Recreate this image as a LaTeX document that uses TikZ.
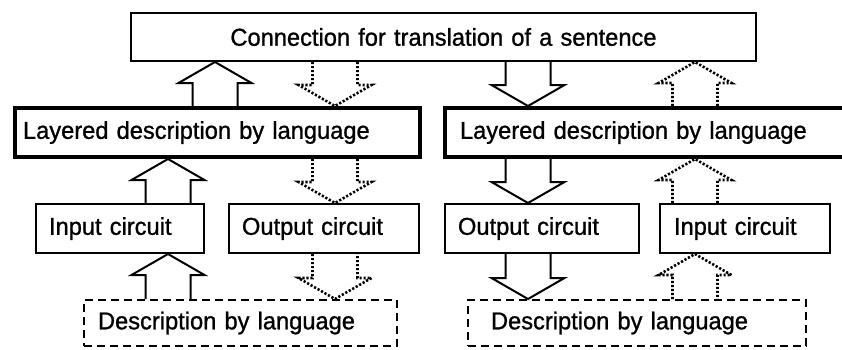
\documentclass[tikz,border=0pt]{standalone}
\usepackage{fontspec}
\setmainfont{Liberation Sans}[FakeBold=1, FakeStretch=0.97]
\usetikzlibrary{calc}

\tikzset{
  box/.style={draw, line width=1pt, anchor=north west, inner ysep=0pt,
    align=left, font=\fontsize{12.2}{14}\selectfont},
  thickbox/.style={box, line width=2pt},
  dashbox/.style={box, dash pattern=on 4pt off 2.5pt},
  solidarrow/.style={line width=1pt, line join=miter},
  dotarrow/.style={line width=1.3pt, dash pattern=on 1.1pt off 0.9pt},
}

% hollow block arrow: style, column, tail, tip
\newcommand{\hollowarrow}[4]{%
  \draw[#1] let \p1=(#2 |- #3), \p2=(#2 |- #4),
    \n1={ifthenelse(\y2>\y1,1,-1)} in
    ({\x1-11.25pt},\y1) -- ({\x1-11.25pt},{\y2-(\n1)*10.5pt})
    -- ({\x1-18.25pt},{\y2-(\n1)*10.5pt}) -- (\x1,\y2)
    -- ({\x1+18.25pt},{\y2-(\n1)*10.5pt})
    -- ({\x1+11.25pt},{\y2-(\n1)*10.5pt}) -- ({\x1+11.25pt},\y1);%
}

\begin{document}
\begin{tikzpicture}[x=0.5pt, y=-0.5pt]
    \useasboundingbox (0,0) rectangle (842,349);%

    % Connection
    \node [box, align=center, minimum width=312.5pt, minimum height=24pt,
    inner xsep=6.25pt, text width=300pt] (T) at (130,12)
    {Connection for translation of a sentence};%

    % Layered descriptions
    \node [thickbox, minimum width=202.5pt, minimum height=24.5pt,
    inner xsep=4pt, text width=194.5pt] (LL1) at (13,106)
    {Layered description by language};%
    \node [thickbox, minimum width=201pt, minimum height=24.5pt,
    inner xsep=7.5pt, text width=186pt] (LL2) at (443,106)
    {Layered description by language};%

    % Circuits
    \node [box, minimum width=84pt, minimum height=24.5pt, inner xsep=6.5pt,
    text width=71pt] (IN1) at (35,203) {Input circuit};%
    \node [box, minimum width=95pt, minimum height=24.5pt, inner xsep=6.5pt,
    text width=82pt] (OUT1) at (228,203) {Output circuit};%
    \node [box, minimum width=97pt, minimum height=24.5pt, inner xsep=6.5pt,
    text width=84pt] (OUT2) at (444,203) {Output circuit};%
    \node [box, minimum width=85pt, minimum height=24.5pt, inner xsep=7pt,
    text width=71pt] (IN2) at (659,203) {Input circuit};%

    % Descriptions
    \node [dashbox, minimum width=156.5pt, minimum height=23pt, inner xsep=7pt,
    text width=142.5pt] (D1) at (83,299) {Description by language};%
    \node [dashbox, minimum width=169pt, minimum height=23pt,
    inner xsep=11.5pt, text width=146pt] (D2) at (467,299)
    {Description by language};%

    % arrow columns
    \coordinate (cA) at (215,0);%
    \coordinate (cB) at (168,0);%
    \coordinate (cD) at (335,0);%
    \coordinate (cR) at (528,0);%
    \coordinate (cE) at (695,0);%

    % arrows
    \hollowarrow{solidarrow}{cA}{LL1.north}{T.south}
    \hollowarrow{dotarrow}{cD}{T.south}{LL1.north}
    \hollowarrow{solidarrow}{cR}{T.south}{LL2.north}
    \hollowarrow{dotarrow}{cE}{LL2.north}{T.south}
    \hollowarrow{solidarrow}{cB}{IN1.north}{LL1.south}
    \hollowarrow{dotarrow}{cD}{LL1.south}{OUT1.north}
    \hollowarrow{solidarrow}{cR}{LL2.south}{OUT2.north}
    \hollowarrow{dotarrow}{cE}{IN2.north}{LL2.south}
    \hollowarrow{solidarrow}{cB}{D1.north}{IN1.south}
    \hollowarrow{dotarrow}{cD}{OUT1.south}{D1.north}
    \hollowarrow{solidarrow}{cR}{OUT2.south}{D2.north}
    \hollowarrow{dotarrow}{cE}{D2.north}{IN2.south}
\end{tikzpicture}
\end{document}
